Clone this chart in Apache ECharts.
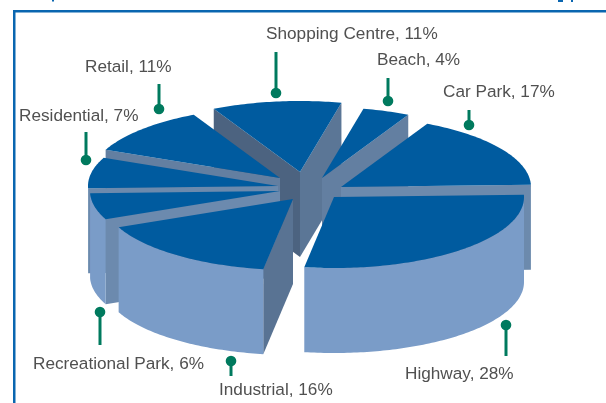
<!DOCTYPE html>
<html>
<head>
<meta charset="utf-8" />
<style>
  html, body { margin: 0; padding: 0; background: #fff; }
  #chart { width: 606px; height: 403px; }
</style>
<script src="https://cdn.jsdelivr.net/npm/echarts@6/dist/echarts.min.js"></script>
</head>
<body>
<div id="chart"></div>
<script>
// chart data, clockwise from the top slice
const categories = ["Shopping Centre", "Beach", "Car Park", "Highway", "Industrial", "Recreational Park", "Residential", "Retail"];
const shares = [11, 4, 17, 28, 16, 6, 7, 11];

// how far each slice is pulled out, in px from the chart centre
const pullX = [0, 22, 41, 34, -7, -20, -22, -20];
const pullY = [-18, -12, -3, 7, 9, 1, -4, -12];
const startAngle = 243;

// label + pin placement, same order as categories
const labelX = [266, 377, 443, 405, 219, 33, 19, 85];
const labelY = [34, 60, 92, 374, 390, 364, 116, 67];
const pinX = [276, 388, 469, 506, 231, 100, 86, 159];
const pinDot = [93, 101, 125, 325, 361, 312, 160, 109];
const pinEnd = [52, 78, 110, 356, 376, 345, 132, 84];

const cx = 300, cy = 190, rx = 190, ry = 71, depth = 85;
const TOP = "#005b9f", WALL = "#7a9cc8", GREEN = "#007a5e", BLUE = "#0a66b0";
const rad = Math.PI / 180;

const total = shares.reduce((a, b) => a + b, 0);
const starts = [];
shares.reduce((acc, v, i) => {
  starts[i] = acc;
  return acc + (v / total) * 360;
}, startAngle);

// paint the back slices first
const mids = shares.map((v, i) => starts[i] + (v / total) * 180);
const order = mids.map((m, i) => i).sort((a, b) => Math.sin(mids[a] * rad) - Math.sin(mids[b] * rad));

// radial faces get darker the further they turn away from the light
function faceColor(normal) {
  let k = (Math.cos((normal - 70) * rad) - 0.15) / 0.81;
  k = Math.max(0, Math.min(1, k));
  const from = [76, 99, 128], to = [108, 138, 174];
  const c = from.map((f, i) => Math.round(f + (to[i] - f) * k));
  return `rgb(${c.join(",")})`;
}

function arc(ox, oy, a0, a1) {
  const pts = [];
  const n = Math.max(2, Math.ceil(Math.abs(a1 - a0)));
  for (let j = 0; j <= n; j++) {
    const t = (a0 + ((a1 - a0) * j) / n) * rad;
    pts.push([ox + rx * Math.cos(t), oy + ry * Math.sin(t)]);
  }
  return pts;
}

function renderSlice(params, api) {
  const i = api.value(1);
  const sweep = (api.value(0) / total) * 360;
  const a0 = starts[i], a1 = a0 + sweep;
  const ox = cx + pullX[i], oy = cy + pullY[i];
  const rank = order.indexOf(i) * 10;
  const children = [];
  const poly = (points, fill, z) =>
    children.push({ type: "polygon", shape: { points }, style: { fill }, z2: rank + z });

  // the two cut faces, skip the one turned away from the viewer
  [a0 - 90, a1 + 90].forEach((normal, k) => {
    if (Math.sin(normal * rad) <= 0) return;
    const e = arc(ox, oy, k === 0 ? a0 : a1, k === 0 ? a0 : a1)[0];
    poly([[ox, oy], e, [e[0], e[1] + depth], [ox, oy + depth]], faceColor(normal), 1);
  });

  // outer wall, only the part that faces the viewer
  for (let turn = 0; turn <= 360; turn += 360) {
    const w0 = Math.max(a0, turn), w1 = Math.min(a1, turn + 180);
    if (w1 > w0) {
      const t = arc(ox, oy, w0, w1);
      const b = t.map((p) => [p[0], p[1] + depth]).reverse();
      poly(t.concat(b), WALL, 2);
    }
  }

  poly([[ox, oy]].concat(arc(ox, oy, a0, a1)), TOP, 3);
  return { type: "group", children };
}

const labels = categories.map((name, i) => ({
  type: "text",
  style: {
    text: `${name}, ${shares[i]}%`,
    x: labelX[i],
    y: labelY[i],
    fill: "#505050",
    font: "17.2px 'Liberation Sans'",
    textVerticalAlign: "middle",
  },
}));

const pins = categories.flatMap((name, i) => [
  {
    type: "line",
    shape: { x1: pinX[i], y1: pinDot[i], x2: pinX[i], y2: pinEnd[i] },
    style: { stroke: GREEN, lineWidth: 3 },
  },
  { type: "circle", shape: { cx: pinX[i], cy: pinDot[i], r: 5.3 }, style: { fill: GREEN } },
]);

// frame, plus the descenders of the cropped heading above it
const frame = [
  { type: "rect", shape: { x: 13, y: 10, width: 593, height: 2.5 }, style: { fill: BLUE } },
  { type: "rect", shape: { x: 13, y: 10, width: 2.5, height: 393 }, style: { fill: BLUE } },
  { type: "rect", shape: { x: 52, y: 0, width: 2, height: 1.5 }, style: { fill: BLUE } },
  { type: "rect", shape: { x: 558, y: 0, width: 5, height: 2 }, style: { fill: BLUE } },
  { type: "rect", shape: { x: 571, y: 0, width: 2, height: 2 }, style: { fill: BLUE } },
];

const E = echarts.init(document.getElementById("chart"), null, { renderer: "canvas" });
E.setOption({
  animation: false,
  backgroundColor: "#fff",
  graphic: { elements: frame.concat(pins, labels) },
  series: [
    {
      type: "custom",
      coordinateSystem: "none",
      silent: true,
      renderItem: renderSlice,
      data: shares.map((v, i) => [v, i]),
    },
  ],
});
</script>
</body>
</html>
